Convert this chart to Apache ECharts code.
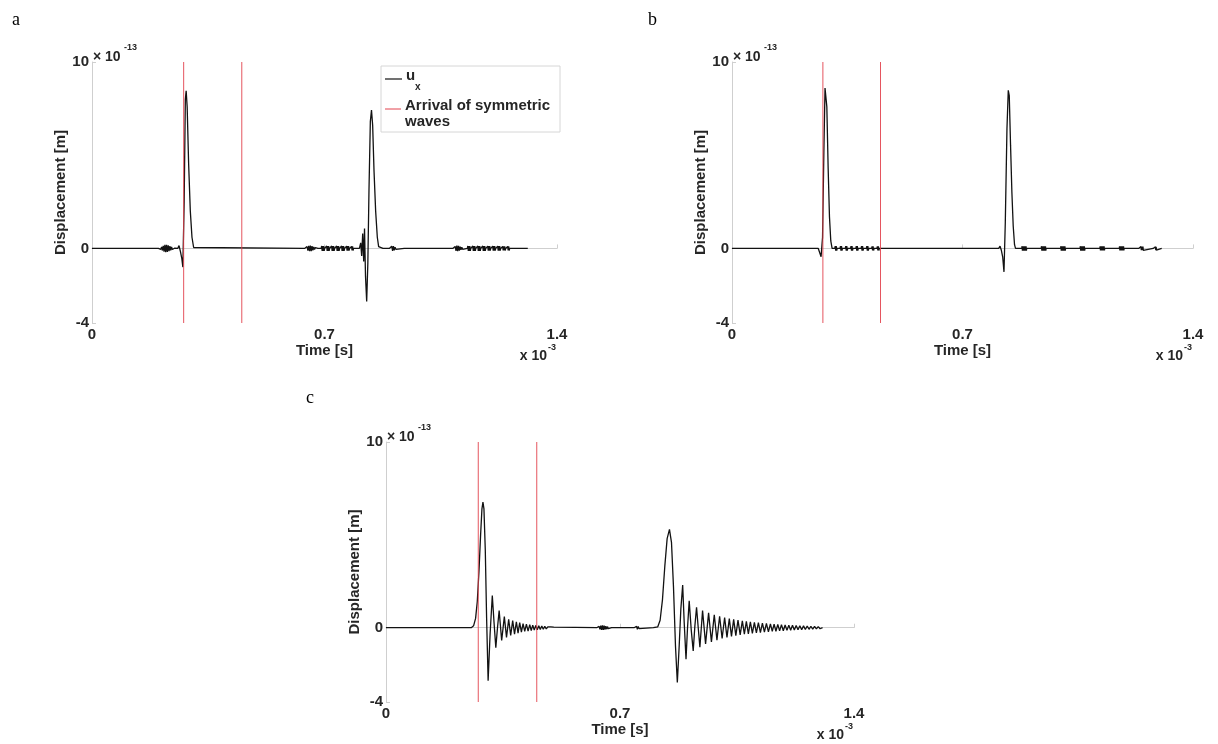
<!DOCTYPE html>
<html><head><meta charset="utf-8">
<script src="https://cdn.jsdelivr.net/npm/echarts@6/dist/echarts.min.js"></script>
<style>html,body{margin:0;padding:0;background:#fff}#c{width:1218px;height:744px}</style>
</head><body><div id="c"></div><script>
// ---- data (time in 1e-3 s, displacement in 1e-13 m) ----
const panelLetters = ['a', 'b', 'c'];
const xTicks = [0, 0.7, 1.4];
const yTicks = [-4, 0, 10];
const arrivalTimes = [0.276, 0.451];
const legendNames = ['u', 'Arrival of symmetric', 'waves'];

const uxA = [
[0,0],[0.2,0],
[0.2045,0.02],[0.207,-0.05],[0.2095,0.08],[0.212,-0.11],[0.2145,0.14],[0.217,-0.17],[0.2195,0.19],[0.222,-0.2],[0.2245,0.2],[0.227,-0.19],[0.2295,0.17],[0.232,-0.15],[0.2345,0.12],[0.237,-0.1],[0.2395,0.08],[0.242,-0.06],[0.2445,0.04],[0.247,-0.03],[0.2495,0.02],[0.252,0],
[0.258,0],[0.262,0.15],[0.266,-0.15],[0.2705,-0.55],[0.2735,-1.0],[0.2775,2.5],[0.281,8.0],[0.2835,8.46],[0.2865,7.6],[0.291,4.5],[0.296,2.0],[0.301,0.6],[0.306,0.05],[0.31,0],
[0.64,0],[0.6425,0.04],[0.645,-0.07],[0.6475,0.1],[0.65,-0.12],[0.6525,0.14],[0.655,-0.15],[0.6575,0.15],[0.66,-0.14],[0.6625,0.12],[0.665,-0.1],[0.6675,0.08],[0.67,-0.06],[0.6725,0.05],[0.675,-0.04],[0.6775,0.03],[0.68,0],
[0.69,0],[0.6915,0.13],[0.693,-0.13],[0.6945,0.13],[0.696,-0.13],[0.6975,0.13],[0.699,-0.13],[0.7005,0],
[0.705,0],[0.7065,0.13],[0.708,-0.13],[0.7095,0.13],[0.711,-0.13],[0.7125,0.13],[0.714,-0.13],[0.7155,0],
[0.72,0],[0.7215,0.13],[0.723,-0.13],[0.7245,0.13],[0.726,-0.13],[0.7275,0.13],[0.729,-0.13],[0.7305,0],
[0.735,0],[0.7365,0.13],[0.738,-0.13],[0.7395,0.13],[0.741,-0.13],[0.7425,0.13],[0.744,-0.13],[0.7455,0],
[0.75,0],[0.7515,0.13],[0.753,-0.13],[0.7545,0.13],[0.756,-0.13],[0.7575,0.13],[0.759,-0.13],[0.7605,0],
[0.765,0],[0.7665,0.12],[0.768,-0.12],[0.7695,0.12],[0.771,-0.12],[0.7725,0.12],[0.774,-0.12],[0.7755,0],
[0.78,0],[0.7815,0.11],[0.783,-0.11],[0.7845,0.11],[0.786,-0.11],[0.7875,0],
[0.795,0],[0.7965,0.09],[0.798,-0.09],[0.7995,0],
[0.805,0],[0.809,0.3],[0.812,-0.4],[0.815,0.8],[0.818,-0.7],[0.8205,1.07],[0.8235,-1.5],[0.827,-2.85],[0.8305,-0.8],[0.834,3.2],[0.838,6.8],[0.8415,7.42],[0.845,6.6],[0.849,4.2],[0.854,2.0],[0.859,0.6],[0.863,0.1],[0.867,0],
[0.876,0],[0.8775,0.1],[0.879,-0.1],[0.8805,0.1],[0.882,-0.1],[0.8835,0],
[0.895,0],[0.8975,0.05],[0.9,-0.09],[0.9025,0.12],[0.905,-0.13],[0.9075,0.12],[0.91,-0.1],[0.9125,0.07],[0.915,-0.05],[0.9175,0.03],[0.92,0],
[0.94,0],[0.9415,0.08],[0.943,-0.08],[0.9445,0],
[0.97,0],[0.9715,0.08],[0.973,-0.08],[0.9745,0],
[1.0,0],[1.0015,0.08],[1.003,-0.08],[1.0045,0],
[1.03,0],[1.0315,0.08],[1.033,-0.08],[1.0345,0],
[1.06,0],[1.0615,0.08],[1.063,-0.08],[1.0645,0],
[1.086,0],[1.0885,0.05],[1.091,-0.08],[1.0935,0.11],[1.096,-0.13],[1.0985,0.15],[1.101,-0.15],[1.1035,0.14],[1.106,-0.12],[1.1085,0.1],[1.111,-0.08],[1.1135,0.07],[1.116,-0.05],[1.1185,0.04],[1.121,0],
[1.13,0],[1.1315,0.13],[1.133,-0.13],[1.1345,0.13],[1.136,-0.13],[1.1375,0.13],[1.139,-0.13],[1.1405,0],
[1.145,0],[1.1465,0.13],[1.148,-0.13],[1.1495,0.13],[1.151,-0.13],[1.1525,0.13],[1.154,-0.13],[1.1555,0],
[1.16,0],[1.1615,0.13],[1.163,-0.13],[1.1645,0.13],[1.166,-0.13],[1.1675,0.13],[1.169,-0.13],[1.1705,0],
[1.175,0],[1.1765,0.13],[1.178,-0.13],[1.1795,0.13],[1.181,-0.13],[1.1825,0.13],[1.184,-0.13],[1.1855,0],
[1.19,0],[1.1915,0.12],[1.193,-0.12],[1.1945,0.12],[1.196,-0.12],[1.1975,0.12],[1.199,-0.12],[1.2005,0],
[1.205,0],[1.2065,0.12],[1.208,-0.12],[1.2095,0.12],[1.211,-0.12],[1.2125,0.12],[1.214,-0.12],[1.2155,0],
[1.22,0],[1.2215,0.12],[1.223,-0.12],[1.2245,0.12],[1.226,-0.12],[1.2275,0.12],[1.229,-0.12],[1.2305,0],
[1.235,0],[1.2365,0.11],[1.238,-0.11],[1.2395,0.11],[1.241,-0.11],[1.2425,0.11],[1.244,-0.11],[1.2455,0],
[1.25,0],[1.2515,0.11],[1.253,-0.11],[1.2545,0.11],[1.256,-0.11],[1.2575,0],
[1.265,0],[1.2665,0.1],[1.268,-0.1],[1.2695,0.1],[1.271,-0.1],[1.2725,0],
[1.28,0],[1.2815,0.09],[1.283,-0.09],[1.2845,0.09],[1.286,-0.09],[1.2875,0],
[1.295,0],[1.2965,0.08],[1.298,-0.08],[1.2995,0],
[1.312,0]
];

const uxB = [
[0,0],[0.262,0],[0.266,0.1],[0.2705,-0.45],[0.275,0.6],[0.279,5.2],[0.2825,8.6],[0.2855,8.7],[0.288,7.6],[0.292,4.3],[0.296,1.7],[0.3,0.4],[0.304,0],
[0.312,0],[0.3135,0.12],[0.315,-0.12],[0.3165,0.12],[0.318,-0.12],[0.3195,0],
[0.328,0],[0.3295,0.12],[0.331,-0.12],[0.3325,0.12],[0.334,-0.12],[0.3355,0],
[0.344,0],[0.3455,0.12],[0.347,-0.12],[0.3485,0.12],[0.35,-0.12],[0.3515,0],
[0.36,0],[0.3615,0.12],[0.363,-0.12],[0.3645,0.12],[0.366,-0.12],[0.3675,0],
[0.376,0],[0.3775,0.12],[0.379,-0.12],[0.3805,0.12],[0.382,-0.12],[0.3835,0],
[0.392,0],[0.3935,0.12],[0.395,-0.12],[0.3965,0.12],[0.398,-0.12],[0.3995,0],
[0.408,0],[0.4095,0.12],[0.411,-0.12],[0.4125,0.12],[0.414,-0.12],[0.4155,0],
[0.424,0],[0.4255,0.11],[0.427,-0.11],[0.4285,0.11],[0.43,-0.11],[0.4315,0],
[0.44,0],[0.4415,0.11],[0.443,-0.11],[0.4445,0.11],[0.446,-0.11],[0.4475,0],
[0.456,0],[0.4575,0.1],[0.459,-0.1],[0.4605,0.1],[0.462,-0.1],[0.4635,0],
[0.472,0],[0.4735,0.1],[0.475,-0.1],[0.4765,0.1],[0.478,-0.1],[0.4795,0],
[0.488,0],[0.4895,0.1],[0.491,-0.1],[0.4925,0.1],[0.494,-0.1],[0.4955,0],
[0.504,0],[0.5055,0.09],[0.507,-0.09],[0.5085,0.09],[0.51,-0.09],[0.5115,0],
[0.52,0],[0.5215,0.09],[0.523,-0.09],[0.5245,0.09],[0.526,-0.09],[0.5275,0],
[0.536,0],[0.5375,0.08],[0.539,-0.08],[0.5405,0],
[0.552,0],[0.5535,0.08],[0.555,-0.08],[0.5565,0],
[0.568,0],[0.5695,0.07],[0.571,-0.07],[0.5725,0],
[0.584,0],[0.5855,0.06],[0.587,-0.06],[0.5885,0],
[0.81,0],[0.814,0.12],[0.818,-0.1],[0.822,-0.45],[0.826,-1.26],[0.83,1.4],[0.835,6.4],[0.839,8.48],[0.842,8.2],[0.846,5.5],[0.85,3.0],[0.854,1.2],[0.858,0.2],[0.861,0],
[0.88,0],[0.881,0.12],[0.882,-0.12],[0.883,0.12],[0.884,-0.12],[0.885,0.12],[0.886,-0.12],[0.887,0.12],[0.888,-0.12],[0.889,0.12],[0.89,-0.12],[0.891,0.12],[0.892,-0.12],[0.893,0.12],[0.894,-0.12],[0.895,0],
[0.939,0],[0.94,0.12],[0.941,-0.12],[0.942,0.12],[0.943,-0.12],[0.944,0.12],[0.945,-0.12],[0.946,0.12],[0.947,-0.12],[0.948,0.12],[0.949,-0.12],[0.95,0.12],[0.951,-0.12],[0.952,0.12],[0.953,-0.12],[0.954,0],
[0.998,0],[0.999,0.12],[1.0,-0.12],[1.001,0.12],[1.002,-0.12],[1.003,0.12],[1.004,-0.12],[1.005,0.12],[1.006,-0.12],[1.007,0.12],[1.008,-0.12],[1.009,0.12],[1.01,-0.12],[1.011,0.12],[1.012,-0.12],[1.013,0],
[1.057,0],[1.058,0.12],[1.059,-0.12],[1.06,0.12],[1.061,-0.12],[1.062,0.12],[1.063,-0.12],[1.064,0.12],[1.065,-0.12],[1.066,0.12],[1.067,-0.12],[1.068,0.12],[1.069,-0.12],[1.07,0.12],[1.071,-0.12],[1.072,0],
[1.117,0],[1.118,0.11],[1.119,-0.11],[1.12,0.11],[1.121,-0.11],[1.122,0.11],[1.123,-0.11],[1.124,0.11],[1.125,-0.11],[1.126,0.11],[1.127,-0.11],[1.128,0.11],[1.129,-0.11],[1.13,0.11],[1.131,-0.11],[1.132,0],
[1.176,0],[1.177,0.11],[1.178,-0.11],[1.179,0.11],[1.18,-0.11],[1.181,0.11],[1.182,-0.11],[1.183,0.11],[1.184,-0.11],[1.185,0.11],[1.186,-0.11],[1.187,0.11],[1.188,-0.11],[1.189,0.11],[1.19,-0.11],[1.191,0],
[1.235,0],[1.236,0.1],[1.237,-0.1],[1.238,0.1],[1.239,-0.1],[1.24,0.1],[1.241,-0.1],[1.242,0.1],[1.243,-0.1],[1.244,0.1],[1.245,-0.1],[1.246,0.1],[1.247,-0.1],[1.248,0.1],[1.249,-0.1],[1.25,0],
[1.279,0],[1.28,0.09],[1.281,-0.09],[1.282,0.09],[1.283,-0.09],[1.284,0.09],[1.285,-0.09],[1.286,0.09],[1.287,-0.09],[1.288,0.09],[1.289,-0.09],[1.29,0],
[1.305,0]
];

const uxC = [
[0,0],[0.255,0],[0.262,0.1],[0.268,0.5],[0.273,1.4],[0.278,3.0],[0.283,5.0],[0.287,6.4],[0.29,6.76],[0.293,6.4],[0.297,4.2],[0.301,0.5],
[0.3055,-2.86],[0.3115,-0.3],[0.318,1.73],[0.3235,0.2],[0.3285,-1.07],[0.3335,0],[0.3385,0.92],[0.346,-0.69],[0.354,0.6],[0.3605,-0.52],
[0.367,0.45],[0.373,-0.41],[0.379,0.38],[0.3845,-0.35],[0.39,0.32],[0.395,-0.29],[0.4,0.27],[0.405,-0.24],[0.41,0.22],[0.415,-0.2],
[0.42,0.19],[0.425,-0.18],[0.43,0.17],[0.4345,-0.15],[0.439,0.14],[0.4435,-0.13],[0.448,0.12],[0.4525,-0.11],[0.457,0.1],[0.4615,-0.095],
[0.466,0.09],[0.4705,-0.08],[0.475,0.07],[0.4795,-0.06],[0.484,0.05],[0.4885,-0.045],[0.493,0.04],[0.4975,-0.035],[0.502,0.03],[0.507,0],
[0.63,0],[0.6325,0.03],[0.635,-0.05],[0.6375,0.07],[0.64,-0.09],[0.6425,0.11],[0.645,-0.12],[0.6475,0.12],[0.65,-0.12],[0.6525,0.11],[0.655,-0.1],[0.6575,0.09],[0.66,-0.08],[0.6625,0.06],[0.665,-0.05],[0.6675,0.04],[0.67,-0.03],[0.675,0],
[0.742,0],[0.7445,0.03],[0.747,-0.05],[0.7495,0.07],[0.752,-0.08],[0.7545,0.07],[0.757,-0.05],[0.7595,0.03],[0.762,0],
[0.8,0],[0.813,0.05],[0.82,0.4],[0.827,1.5],[0.834,3.3],[0.841,4.8],[0.848,5.3],[0.854,4.6],[0.86,2.2],[0.866,-1.0],[0.8715,-2.95],
[0.877,-1.0],[0.882,1.0],[0.8875,2.3],[0.892,0.3],[0.8975,-1.7],[0.902,0],[0.907,1.45],[0.913,-0.1],[0.919,-1.25],[0.924,0.1],[0.929,1.1],[0.934,0],
[0.939,-1.05],[0.947,0.92],[0.956,-0.87],[0.965,0.8],[0.9735,-0.76],[0.982,0.7],[0.99,-0.67],[0.998,0.62],[1.0055,-0.58],[1.013,0.55],
[1.02,-0.52],[1.027,0.49],[1.0335,-0.47],[1.04,0.45],[1.0465,-0.43],[1.053,0.41],[1.0595,-0.39],[1.066,0.37],[1.072,-0.35],[1.078,0.34],
[1.084,-0.33],[1.09,0.31],[1.096,-0.3],[1.102,0.29],[1.108,-0.28],[1.114,0.27],[1.12,-0.26],[1.126,0.25],[1.132,-0.24],[1.138,0.23],
[1.144,-0.22],[1.15,0.21],[1.1555,-0.2],[1.161,0.195],[1.1665,-0.19],[1.172,0.18],[1.1775,-0.17],[1.183,0.165],[1.1885,-0.16],[1.194,0.15],
[1.1995,-0.145],[1.205,0.14],[1.2105,-0.135],[1.216,0.13],[1.2215,-0.125],[1.227,0.12],[1.2325,-0.115],[1.238,0.11],[1.2435,-0.105],[1.249,0.1],
[1.2545,-0.095],[1.26,0.09],[1.2655,-0.085],[1.271,0.08],[1.2765,-0.075],[1.282,0.07],[1.2875,-0.065],[1.293,0.06],[1.2985,-0.055],[1.303,0.03],[1.306,0]
];

const panelSeries = [uxA, uxB, uxC];
const yRange = [-4, 10];

// ---- layout / style ----
const FONT = '"Liberation Sans", Arial, sans-serif';
const TXT = '#262626';
const AXC = '#cfcfcf';
const RED = '#e2434e';
const FS = 15;
const grids = [
  {left: 92, top: 62, width: 465, height: 261},
  {left: 732, top: 62, width: 461, height: 261},
  {left: 386, top: 442, width: 468, height: 260}
];

const xAxes = [], yAxes = [], series = [], graphics = [];
grids.forEach((g, i) => {
  xAxes.push({
    type: 'value', gridIndex: i, min: 0, max: 1.4,
    name: 'Time [s]', nameLocation: 'middle', nameGap: 18,
    nameTextStyle: {color: TXT, fontSize: FS, fontWeight: 'bold', fontFamily: FONT},
    axisLine: {show: true, lineStyle: {color: AXC, width: 1}},
    axisTick: {show: true, inside: true, length: 4, customValues: xTicks, lineStyle: {color: AXC}},
    axisLabel: {customValues: xTicks, margin: 4, color: TXT, fontSize: FS, fontWeight: 'bold', fontFamily: FONT,
      formatter: v => String(v)},
    splitLine: {show: false}
  });
  yAxes.push({
    type: 'value', gridIndex: i, min: -4, max: 10,
    name: 'Displacement [m]', nameLocation: 'middle', nameGap: 23, nameRotate: 90,
    nameTextStyle: {color: TXT, fontSize: FS, fontWeight: 'bold', fontFamily: FONT},
    axisLine: {show: true, lineStyle: {color: AXC, width: 1}},
    axisTick: {show: true, inside: true, length: 4, customValues: yTicks, lineStyle: {color: AXC}},
    axisLabel: {customValues: yTicks, margin: 3, color: TXT, fontSize: FS, fontWeight: 'bold', fontFamily: FONT,
      formatter: v => String(v)},
    splitLine: {show: false}
  });
  series.push({
    type: 'line', xAxisIndex: i, yAxisIndex: i, data: panelSeries[i],
    showSymbol: false, symbol: 'none', animation: false, silent: true, z: 2,
    lineStyle: {color: '#121212', width: 1.3}
  });
  arrivalTimes.forEach(t => {
    series.push({
      type: 'line', xAxisIndex: i, yAxisIndex: i, data: [[t, yRange[0]], [t, yRange[1]]],
      showSymbol: false, symbol: 'none', animation: false, silent: true, z: 3,
      lineStyle: {color: RED, width: 1, opacity: 0.9}
    });
  });
  // exponent labels
  graphics.push({type: 'text', x: g.left + 1, y: g.top - 5,
    style: {text: '× 10', font: 'bold 14px ' + FONT, fill: TXT, align: 'left', verticalAlign: 'middle'}});
  graphics.push({type: 'text', x: g.left + 32, y: g.top - 14,
    style: {text: '-13', font: 'bold 9px ' + FONT, fill: TXT, align: 'left', verticalAlign: 'middle'}});
  graphics.push({type: 'text', x: g.left + g.width - 10, y: g.top + g.height + 33,
    style: {text: 'x 10', font: 'bold 14px ' + FONT, fill: TXT, align: 'right', verticalAlign: 'middle'}});
  graphics.push({type: 'text', x: g.left + g.width - 9, y: g.top + g.height + 25,
    style: {text: '-3', font: 'bold 9px ' + FONT, fill: TXT, align: 'left', verticalAlign: 'middle'}});
});

// panel letters
const letterPos = [[12, 20], [648, 20], [306, 398]];
panelLetters.forEach((L, i) => {
  graphics.push({type: 'text', x: letterPos[i][0], y: letterPos[i][1],
    style: {text: L, font: '18px "Liberation Serif", "Times New Roman", serif', fill: '#000', verticalAlign: 'middle'}});
});

// legend of panel a
graphics.push({type: 'group', x: 381, y: 66, z: 10, children: [
  {type: 'rect', shape: {x: 0, y: 0, width: 179, height: 66}, style: {fill: '#fff', stroke: '#d6d6d6', lineWidth: 1}},
  {type: 'line', shape: {x1: 4, y1: 13, x2: 21, y2: 13}, style: {stroke: '#121212', lineWidth: 1.2}},
  {type: 'text', x: 25, y: 10, style: {text: legendNames[0], font: 'bold 15px ' + FONT, fill: TXT, verticalAlign: 'middle'}},
  {type: 'text', x: 34, y: 21, style: {text: 'x', font: 'bold 10px ' + FONT, fill: TXT, verticalAlign: 'middle'}},
  {type: 'line', shape: {x1: 4, y1: 43, x2: 20, y2: 43}, style: {stroke: RED, lineWidth: 1}},
  {type: 'text', x: 24, y: 40, style: {text: legendNames[1], font: 'bold 15px ' + FONT, fill: TXT, verticalAlign: 'middle'}},
  {type: 'text', x: 24, y: 56, style: {text: legendNames[2], font: 'bold 15px ' + FONT, fill: TXT, verticalAlign: 'middle'}}
]});

const chart = echarts.init(document.getElementById('c'), null, {renderer: 'canvas'});
chart.setOption({
  animation: false,
  backgroundColor: '#fff',
  grid: grids.map(g => Object.assign({containLabel: false}, g)),
  xAxis: xAxes,
  yAxis: yAxes,
  series: series,
  graphic: graphics
});
</script></body></html>
